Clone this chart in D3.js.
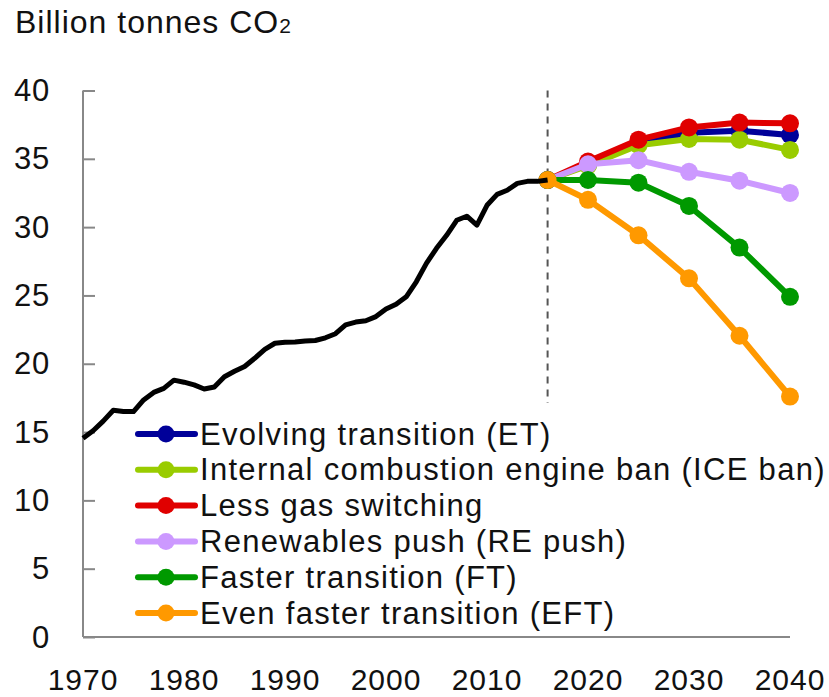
<!DOCTYPE html>
<html>
<head>
<meta charset="utf-8">
<script src="https://cdn.jsdelivr.net/npm/d3@7"></script>
<style>
  html, body { margin: 0; padding: 0; background: #fff; }
  svg { display: block; }
  text { font-family: "Liberation Sans", Arial, sans-serif; fill: #111; }
</style>
</head>
<body>
<svg id="chart" width="829" height="697"></svg>
<script>
// ---- Data ----
const histYears = [1970,1971,1972,1973,1974,1975,1976,1977,1978,1979,1980,1981,1982,1983,1984,1985,1986,1987,1988,1989,1990,1991,1992,1993,1994,1995,1996,1997,1998,1999,2000,2001,2002,2003,2004,2005,2006,2007,2008,2009,2010,2011,2012,2013,2014,2015,2016];
const histValues = [14.55,15.1,15.8,16.6,16.5,16.5,17.35,17.9,18.2,18.8,18.65,18.45,18.15,18.3,19.05,19.45,19.8,20.4,21.05,21.5,21.57,21.6,21.67,21.7,21.9,22.2,22.85,23.05,23.15,23.45,24.0,24.35,24.9,26.0,27.35,28.45,29.4,30.5,30.8,30.15,31.6,32.4,32.7,33.2,33.35,33.35,33.45];

const scenarioYears = [2016,2020,2025,2030,2035,2040];
const etValues   = [33.45,34.6,36.2,36.9,37.05,36.75];
const iceValues  = [33.45,34.5,36.0,36.45,36.4,35.65];
const lessValues = [33.45,34.8,36.4,37.3,37.65,37.6];
const reValues   = [33.45,34.6,34.9,34.05,33.4,32.5];
const ftValues   = [33.45,33.45,33.25,31.55,28.5,24.9];
const eftValues  = [33.45,32.0,29.4,26.25,22.05,17.6];

const seriesNames = ["Evolving transition (ET)","Internal combustion engine ban (ICE ban)","Less gas switching","Renewables push (RE push)","Faster transition (FT)","Even faster transition (EFT)"];
const seriesColors = ["#000099","#99CC00","#E00000","#CC99FF","#009900","#FF9900"];
const seriesValues = [etValues, iceValues, lessValues, reValues, ftValues, eftValues];

const yTicks = [0,5,10,15,20,25,30,35,40];
const xTicks = [1970,1980,1990,2000,2010,2020,2030,2040];
const projectionStart = 2016;

// ---- Scales ----
const svg = d3.select("#chart");
const x = d3.scaleLinear().domain([1970, 2040]).range([83, 790]);
const y = d3.scaleLinear().domain([0, 40]).range([637, 90.5]);

// Title
const title = svg.append("text").attr("x", 15).attr("y", 33)
  .style("font-size", "32px").style("letter-spacing", "1px");
title.append("tspan").text("Billion tonnes CO");
title.append("tspan").style("font-size", "21px").text("2");

// Y axis
const yAxis = d3.axisRight(y).tickValues(yTicks).tickSize(12).tickFormat("");
const gy = svg.append("g").attr("transform", "translate(83,0)").call(yAxis);
gy.select(".domain").attr("stroke", "#888").attr("stroke-width", 2).attr("d", `M0,${y(0)}V${y(40)}`);
gy.selectAll(".tick line").attr("stroke", "#888").attr("stroke-width", 2);

svg.append("g").selectAll("text").data(yTicks).join("text")
  .attr("x", 50).attr("y", d => y(d)).attr("text-anchor", "end")
  .attr("dominant-baseline", "central")
  .style("font-size", "31px").style("letter-spacing", "0.8px")
  .text(d => d);

// X axis
const xAxis = d3.axisBottom(x).tickValues(xTicks).tickSize(0).tickFormat("");
const gx = svg.append("g").attr("transform", `translate(0,${y(0)})`).call(xAxis);
gx.select(".domain").attr("stroke", "#888").attr("stroke-width", 2).attr("d", `M${x(1970)},0H${x(2040)}`);

svg.append("g").selectAll("text").data(xTicks).join("text")
  .attr("x", d => x(d)).attr("y", 690).attr("text-anchor", "middle")
  .style("font-size", "30px").style("letter-spacing", "1px")
  .text(d => d);

// Dashed projection line (stops above the legend)
svg.append("line")
  .attr("x1", x(projectionStart)).attr("x2", x(projectionStart))
  .attr("y1", y(40)).attr("y2", 403)
  .attr("stroke", "#555").attr("stroke-width", 2).attr("stroke-dasharray", "7,6");

// Scenario lines
const line = d3.line().x(d => x(d[0])).y(d => y(d[1]));
seriesValues.forEach((vals, i) => {
  const pts = scenarioYears.map((yr, j) => [yr, vals[j]]);
  const g = svg.append("g");
  g.append("path").datum(pts).attr("d", line)
    .attr("fill", "none").attr("stroke", seriesColors[i]).attr("stroke-width", 6)
    .attr("stroke-linejoin", "round");
  g.selectAll("circle").data(pts).join("circle")
    .attr("cx", d => x(d[0])).attr("cy", d => y(d[1])).attr("r", 9)
    .attr("fill", seriesColors[i]);
});

// Historical line
svg.append("path").datum(histYears.map((yr, i) => [yr, histValues[i]]))
  .attr("d", line).attr("fill", "none").attr("stroke", "#000")
  .attr("stroke-width", 5).attr("stroke-linejoin", "round");

// Legend
const lg = svg.append("g");
const rowY0 = 434, rowStep = 35.8;
seriesNames.forEach((name, i) => {
  const yy = rowY0 + i * rowStep;
  lg.append("line").attr("x1", 138).attr("x2", 195).attr("y1", yy).attr("y2", yy)
    .attr("stroke", seriesColors[i]).attr("stroke-width", 6).attr("stroke-linecap", "round");
  lg.append("circle").attr("cx", 166).attr("cy", yy).attr("r", 8.5).attr("fill", seriesColors[i]);
  lg.append("text").attr("x", 200).attr("y", yy).attr("dominant-baseline", "central")
    .style("font-size", "31px").style("letter-spacing", "1.3px").text(name);
});
</script>
</body>
</html>
